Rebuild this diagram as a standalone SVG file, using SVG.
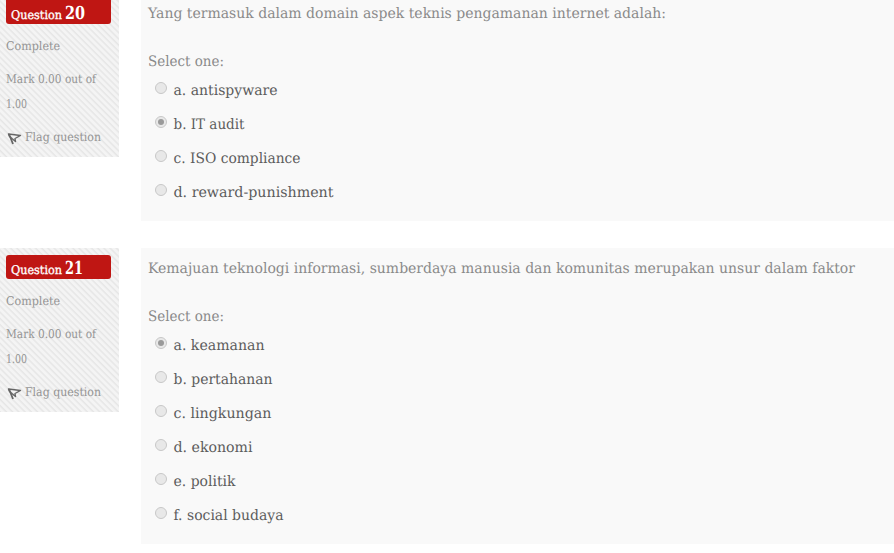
<svg xmlns="http://www.w3.org/2000/svg" width="894" height="553" viewBox="0 0 894 553">
<style>
text{text-rendering:geometricPrecision}
.s{font-family:"DejaVu Serif Condensed","DejaVu Serif",serif;font-size:12px;fill:#949494}
.q{font-family:"DejaVu Serif Condensed","DejaVu Serif",serif;font-size:14.5px;fill:#8a8a8a}
.o{font-family:"DejaVu Serif Condensed","DejaVu Serif",serif;font-size:14.5px;fill:#5c5c5c}
.h{font-family:"DejaVu Serif Condensed","DejaVu Serif",serif;fill:#fff;font-size:12px;stroke:#fff;stroke-width:.3}
.n{font-family:"DejaVu Serif Condensed","DejaVu Serif",serif;fill:#fff;font-weight:bold;font-size:18px}
.r{fill:#e8e8e8;stroke:#c8c8c8}
.d{fill:#9a9a9a}
.f{fill:none;stroke:#666;stroke-width:1.4;stroke-linejoin:round}
</style>
<defs>
<pattern id="p" width="4.4" height="4.4" patternUnits="userSpaceOnUse" patternTransform="rotate(45)"><rect width="4.4" height="4.4" fill="#f4f4f4"/><rect width="4.400" height="1.500" fill="#e6e6e6"/></pattern>
<g id="flag"><path class="f" d="M8.500 134L20.500 135.500L15 138.500L15.500 141.500L9.500 136.500Z"/><path d="M9 134L13 144" stroke="#666" stroke-width="1.800" fill="none"/></g>
</defs>
<rect width="894" height="553" fill="#fff"/>
<g id="q20">
<rect y="0" width="119" height="157" fill="url(#p)"/>
<path d="M6 0H111V21a3 3 0 0 1-3 3H9a3 3 0 0 1-3-3Z" fill="#bf1613"/>
<text class="h" x="11" y="19" textLength="51" lengthAdjust="spacingAndGlyphs">Question</text><text class="n" x="65" y="19" textLength="20" lengthAdjust="spacingAndGlyphs">20</text>
<text class="s" x="6" y="50" textLength="54" lengthAdjust="spacingAndGlyphs">Complete</text><text class="s" x="6" y="83" textLength="90" lengthAdjust="spacingAndGlyphs">Mark 0.00 out of</text><text class="s" x="6" y="108" textLength="21" lengthAdjust="spacingAndGlyphs">1.00</text><text class="s" x="25" y="141" textLength="76" lengthAdjust="spacingAndGlyphs">Flag question</text>
<use href="#flag"/>
<rect x="141" y="0" width="753" height="221" fill="#f9f9f9"/>
<text class="q" x="148" y="18" textLength="518" lengthAdjust="spacingAndGlyphs">Yang termasuk dalam domain aspek teknis pengamanan internet adalah:</text>
<text class="q" x="148" y="65.500" textLength="76" lengthAdjust="spacingAndGlyphs">Select one:</text>
<circle class="r" cx="161" cy="88" r="5.500"/><text class="o" x="173.500" y="95" textLength="104" lengthAdjust="spacingAndGlyphs">a. antispyware</text>
<circle class="r" cx="161" cy="122" r="5.500"/><circle class="d" cx="161" cy="122" r="3"/><text class="o" x="173.500" y="129" textLength="71" lengthAdjust="spacingAndGlyphs">b. IT audit</text>
<circle class="r" cx="161" cy="156" r="5.500"/><text class="o" x="173.500" y="163" textLength="127" lengthAdjust="spacingAndGlyphs">c. ISO compliance</text>
<circle class="r" cx="161" cy="190" r="5.500"/><text class="o" x="173.500" y="197" textLength="160" lengthAdjust="spacingAndGlyphs">d. reward-punishment</text>
</g>
<g id="q21">
<rect y="248" width="119" height="164" fill="url(#p)"/>
<rect x="6" y="255" width="105" height="24" rx="3" fill="#bf1613"/>
<text class="h" x="11" y="274" textLength="51" lengthAdjust="spacingAndGlyphs">Question</text><text class="n" x="65" y="274" textLength="18" lengthAdjust="spacingAndGlyphs">21</text>
<text class="s" x="6" y="305" textLength="54" lengthAdjust="spacingAndGlyphs">Complete</text><text class="s" x="6" y="338" textLength="90" lengthAdjust="spacingAndGlyphs">Mark 0.00 out of</text><text class="s" x="6" y="363" textLength="21" lengthAdjust="spacingAndGlyphs">1.00</text><text class="s" x="25" y="396" textLength="76" lengthAdjust="spacingAndGlyphs">Flag question</text>
<use href="#flag" y="255"/>
<rect x="141" y="248" width="753" height="296" fill="#f9f9f9"/>
<text class="q" x="148" y="273" textLength="707" lengthAdjust="spacingAndGlyphs">Kemajuan teknologi informasi, sumberdaya manusia dan komunitas merupakan unsur dalam faktor</text>
<text class="q" x="148" y="320.500" textLength="76" lengthAdjust="spacingAndGlyphs">Select one:</text>
<circle class="r" cx="161" cy="343" r="5.500"/><circle class="d" cx="161" cy="343" r="3"/><text class="o" x="173.500" y="350" textLength="91" lengthAdjust="spacingAndGlyphs">a. keamanan</text>
<circle class="r" cx="161" cy="377" r="5.500"/><text class="o" x="173.500" y="384" textLength="99" lengthAdjust="spacingAndGlyphs">b. pertahanan</text>
<circle class="r" cx="161" cy="411" r="5.500"/><text class="o" x="173.500" y="418" textLength="98" lengthAdjust="spacingAndGlyphs">c. lingkungan</text>
<circle class="r" cx="161" cy="445" r="5.500"/><text class="o" x="173.500" y="452" textLength="79" lengthAdjust="spacingAndGlyphs">d. ekonomi</text>
<circle class="r" cx="161" cy="479" r="5.500"/><text class="o" x="173.500" y="486" textLength="62" lengthAdjust="spacingAndGlyphs">e. politik</text>
<circle class="r" cx="161" cy="513" r="5.500"/><text class="o" x="173.500" y="520" textLength="110" lengthAdjust="spacingAndGlyphs">f. social budaya</text>
</g>
</svg>
